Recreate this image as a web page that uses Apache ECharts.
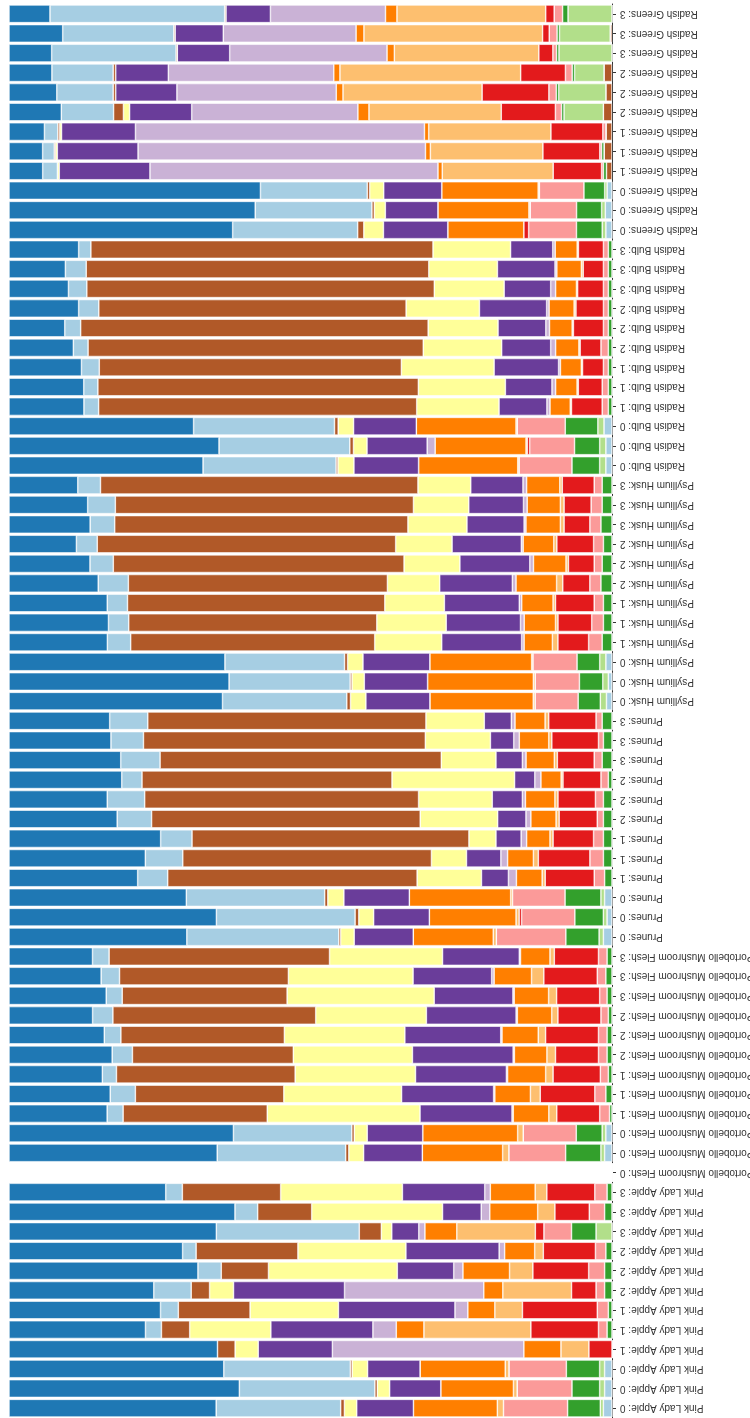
<!DOCTYPE html>
<html>
<head>
<meta charset="utf-8">
<script src="https://cdn.jsdelivr.net/npm/echarts@6/dist/echarts.min.js"></script>
<style>
  html, body { margin: 0; padding: 0; background: #ffffff; }
  #chart { width: 750px; height: 1418px; }
</style>
</head>
<body>
<div id="chart"></div>
<script>
// Foods and time points; three replicate rows per time point.
const foods = ['Pink Lady Apple', 'Portobello Mushroom Flesh', 'Prunes', 'Psyllium Husk', 'Radish Bulb', 'Radish Greens'];
const timepoints = ['0', '0', '0', '1', '1', '1', '2', '2', '2', '3', '3', '3'];

// Taxa in stacking order (starting at the axis).
const taxa = ['t01', 't02', 't03', 't04', 't05', 't06', 't07', 't08', 't09', 't10', 't11', 't12', 't13', 't14'];
const taxonColors = ['#b15928', '#a6cee3', '#b2df8a', '#33a02c', '#fb9a99', '#e31a1c', '#fdbf6f',
                     '#ff7f00', '#cab2d6', '#6a3d9a', '#ffff99', '#b15928', '#a6cee3', '#1f78b4'];

// Abundance per sample (one row per sample, one column per taxon).
const pinkLadyApple = [
  [0, 1.4, 0.5, 5.3, 10.4, 0, 1.0, 13.6, 0, 9.2, 2.0, 0.6, 20.2, 33.6],
  [0, 1.2, 0.8, 4.5, 8.9, 0, 0.6, 11.8, 0, 8.3, 2.0, 0.4, 22.0, 37.4],
  [0, 1.2, 0.8, 5.4, 9.3, 0, 0.6, 13.8, 0, 8.5, 2.5, 0.3, 20.5, 34.8],
  [0, 0, 0, 0, 0, 3.8, 4.6, 6.1, 31.5, 12.2, 3.8, 2.9, 0, 34.3],
  [0, 0, 0, 0.8, 1.4, 11.0, 17.4, 4.5, 3.8, 16.6, 13.2, 4.6, 2.6, 22.2],
  [0, 0, 0, 0.6, 1.8, 12.2, 4.5, 4.4, 2.1, 19.0, 14.4, 11.7, 2.9, 24.7],
  [0, 0, 0, 1.2, 1.4, 4.0, 11.2, 3.1, 22.7, 18.1, 3.9, 3.0, 6.1, 23.6],
  [0, 0, 0, 1.2, 2.6, 9.1, 3.8, 7.6, 1.5, 9.2, 21.0, 7.7, 3.8, 30.8],
  [0, 0, 0, 1.0, 1.7, 8.5, 1.4, 4.9, 0.9, 15.2, 17.6, 16.6, 2.2, 28.3],
  [0, 0, 2.6, 4.0, 4.5, 1.4, 12.8, 5.2, 1.0, 4.4, 1.7, 3.6, 23.3, 33.8],
  [0, 0, 0, 1.2, 2.5, 5.6, 2.8, 7.8, 1.4, 6.3, 21.3, 8.8, 3.7, 36.8],
  [0, 0, 0, 0.8, 2.0, 7.8, 1.9, 7.3, 0.9, 13.4, 19.8, 16.0, 2.7, 25.5]
];
const portobelloMushroomFlesh = [
  [0, 0, 0, 0, 0, 0, 0, 0, 0, 0, 0, 0, 0, 0],
  [0, 1.2, 0.6, 5.7, 9.2, 0, 1.0, 13.0, 0, 9.5, 2.4, 0.5, 20.8, 33.7],
  [0, 1.0, 0.6, 4.2, 8.6, 0, 0.9, 15.4, 0, 9.0, 2.1, 0.4, 19.2, 36.4],
  [0, 0, 0, 0.4, 1.6, 7.0, 1.3, 5.8, 0.2, 15.0, 24.9, 23.5, 2.6, 16.0],
  [0, 0, 0, 1.0, 1.8, 8.9, 1.6, 5.8, 0.2, 15.0, 19.2, 24.2, 4.1, 16.5],
  [0, 0, 0, 0.6, 1.3, 7.7, 1.2, 6.2, 0.2, 14.8, 19.6, 29.1, 2.3, 15.2],
  [0, 0, 0, 0.8, 1.4, 7.0, 1.4, 5.3, 0.2, 16.4, 19.4, 26.2, 3.3, 16.8],
  [0, 0, 0, 0.8, 1.4, 8.6, 1.2, 5.9, 0.2, 15.6, 19.6, 26.6, 2.7, 15.5],
  [0, 0, 0, 0.6, 1.2, 7.0, 1.0, 5.6, 0.2, 14.6, 18.0, 33.0, 3.3, 13.6],
  [0, 0, 0, 0.8, 1.2, 7.0, 1.3, 5.6, 0.2, 12.8, 23.9, 26.8, 2.6, 15.8],
  [0, 0, 0, 1.0, 1.4, 8.7, 2.0, 6.1, 0.4, 12.8, 20.3, 27.5, 3.0, 15.0],
  [0, 0, 0, 0.8, 1.4, 7.2, 0.7, 4.8, 0.2, 12.5, 18.4, 35.9, 2.7, 13.6]
];
const prunes = [
  [0, 1.4, 0.7, 5.4, 11.3, 0, 0.5, 13.0, 0, 9.6, 2.2, 0.3, 24.7, 28.9],
  [0, 0.8, 0.6, 4.6, 8.6, 0.4, 0.5, 14.0, 0, 9.0, 2.4, 0.6, 22.4, 33.5],
  [0, 1.2, 0.6, 5.8, 8.5, 0, 0.3, 16.4, 0, 10.6, 2.6, 0.5, 22.4, 28.7],
  [0, 0, 0, 1.2, 1.7, 8.0, 0.5, 4.2, 1.3, 4.4, 10.5, 40.7, 4.9, 21.0],
  [0, 0, 0, 1.4, 2.2, 8.4, 0.8, 4.2, 1.1, 5.6, 5.7, 40.5, 6.1, 22.2],
  [0, 0, 0, 1.4, 1.6, 6.6, 0.5, 3.8, 0.9, 4.1, 4.4, 45.1, 5.1, 24.7],
  [0, 0, 0, 1.4, 1.0, 6.2, 0.5, 4.1, 0.8, 4.6, 12.6, 43.7, 5.6, 17.6],
  [0, 0, 0, 1.4, 1.3, 6.1, 0.5, 4.8, 0.5, 4.9, 12.0, 44.6, 6.1, 16.0],
  [0, 0, 0, 0.6, 1.2, 6.2, 0.3, 3.3, 1.0, 3.3, 20.0, 40.8, 3.3, 18.4],
  [0, 0, 0, 1.6, 1.3, 6.0, 0.5, 4.6, 0.6, 4.3, 8.9, 45.8, 6.4, 18.2],
  [0, 0, 0, 1.4, 0.8, 7.6, 0.5, 4.8, 0.9, 3.8, 10.6, 45.9, 5.3, 16.6],
  [0, 0, 0, 1.6, 1.0, 7.7, 0.6, 4.9, 0.6, 4.4, 9.5, 45.3, 6.2, 16.4]
];
const psylliumHusk = [
  [0, 0.9, 1.0, 3.6, 7.0, 0, 0.3, 16.8, 0, 10.4, 2.5, 0.6, 20.2, 34.7],
  [0, 0.6, 0.9, 3.8, 7.2, 0, 0.3, 17.2, 0, 10.3, 2.0, 0.3, 19.7, 35.8],
  [0, 1.0, 1.0, 3.7, 7.2, 0, 0.2, 16.6, 0, 10.9, 2.5, 0.5, 19.5, 35.2],
  [0, 0, 0, 1.6, 2.2, 5.0, 0.9, 4.6, 0.4, 13.0, 10.9, 39.7, 3.8, 16.0],
  [0, 0, 0, 1.4, 1.9, 5.5, 0.4, 5.1, 0.6, 12.1, 11.3, 40.4, 3.3, 16.2],
  [0, 0, 0, 1.4, 1.5, 6.3, 0.4, 5.1, 0.4, 12.2, 9.7, 41.9, 3.3, 16.0],
  [0, 0, 0, 1.8, 1.8, 4.4, 1.0, 6.6, 0.6, 11.8, 8.5, 42.1, 4.9, 14.5],
  [0, 0, 0, 1.6, 1.3, 4.2, 0.4, 5.3, 0.6, 11.4, 9.1, 47.4, 3.8, 13.2],
  [0, 0, 0, 1.4, 1.6, 6.0, 0.5, 5.0, 0.3, 11.3, 9.2, 48.7, 3.4, 11.0],
  [0, 0, 0, 1.8, 1.8, 4.2, 0.6, 5.6, 0.3, 9.3, 9.6, 47.7, 4.0, 13.2],
  [0, 0, 0, 1.6, 1.8, 4.4, 0.6, 5.4, 0.6, 8.9, 9.0, 48.5, 4.5, 12.8],
  [0, 0, 0, 1.6, 1.3, 5.2, 0.4, 5.4, 0.6, 8.5, 8.6, 51.7, 3.7, 11.2]
];
const radishBulb = [
  [0, 1.0, 1.0, 4.5, 8.6, 0, 0.2, 16.1, 0, 10.5, 2.6, 0.3, 21.6, 31.5],
  [0, 1.0, 1.0, 4.1, 7.3, 0.4, 0.2, 14.8, 1.3, 9.8, 2.2, 0.6, 21.3, 34.2],
  [0, 1.3, 1.0, 5.3, 7.8, 0, 0.2, 16.2, 0, 10.2, 2.5, 0.6, 22.9, 30.0],
  [0, 0, 0, 0.6, 1.0, 5.0, 0.2, 3.3, 0.5, 7.8, 13.4, 51.8, 2.4, 12.2],
  [0, 0, 0, 0.6, 1.0, 3.9, 0.2, 3.5, 0.6, 7.6, 14.2, 52.3, 2.3, 12.2],
  [0, 0, 0, 0.6, 0.8, 3.4, 0.2, 3.4, 0.3, 10.5, 15.1, 49.2, 2.9, 11.8],
  [0, 0, 0, 0.6, 1.2, 3.4, 0.2, 3.8, 0.8, 8.0, 12.8, 54.7, 2.4, 10.5],
  [0, 0, 0, 0.6, 0.8, 4.9, 0.2, 3.7, 0.6, 7.8, 11.4, 56.7, 2.6, 9.1],
  [0, 0, 0, 0.6, 0.8, 4.5, 0.3, 4.1, 0.4, 11.0, 12.0, 50.3, 3.3, 11.4],
  [0, 0, 0, 0.6, 0.8, 4.2, 0.2, 3.4, 0.8, 7.6, 11.4, 56.7, 3.0, 9.7],
  [0, 0, 0, 0.6, 0.8, 3.3, 0.3, 4.0, 0.3, 9.4, 11.2, 55.9, 3.4, 9.2],
  [0, 0, 0, 0.6, 0.8, 4.1, 0.2, 3.6, 0.4, 6.9, 12.7, 56.0, 2.0, 11.4]
];
const radishGreens = [
  [0, 1.0, 0.6, 4.2, 7.8, 0.8, 0, 12.4, 0, 10.5, 3.2, 1.0, 20.4, 36.5],
  [0, 1.1, 0.6, 4.1, 7.6, 0, 0.2, 14.9, 0, 8.6, 1.8, 0.4, 19.1, 40.3],
  [0, 0.8, 0.4, 3.4, 7.3, 0, 0.2, 15.8, 0, 9.5, 2.3, 0.4, 17.5, 41.2],
  [0.9, 0, 0, 0.5, 0.3, 7.9, 18.1, 0.7, 47.0, 14.8, 0.3, 0, 2.4, 5.5],
  [1.3, 0, 0, 0.4, 0.3, 9.3, 18.4, 0.8, 47.0, 13.2, 0.3, 0.2, 1.9, 5.5],
  [1.0, 0, 0, 0, 0.5, 8.5, 20.0, 0.7, 47.3, 12.1, 0.3, 0.3, 2.2, 5.8],
  [1.4, 0, 6.4, 0.4, 1.0, 8.8, 21.5, 1.8, 27.0, 10.1, 1.0, 1.6, 8.5, 8.5],
  [1.0, 0, 7.7, 0.4, 1.2, 10.9, 22.7, 1.1, 26.0, 10.0, 0, 0.4, 9.2, 7.8],
  [1.3, 0, 4.8, 0.4, 1.1, 7.3, 29.5, 1.0, 27.0, 8.6, 0, 0.4, 10.0, 7.0],
  [0, 0, 8.7, 0.4, 0.6, 2.3, 23.7, 1.2, 25.8, 8.6, 0, 0.2, 20.4, 7.0],
  [0.3, 0, 8.4, 0.4, 1.3, 1.1, 29.6, 1.3, 22.0, 8.0, 0, 0.2, 18.4, 8.9],
  [0, 0, 7.3, 0.9, 1.4, 1.4, 24.7, 1.9, 19.1, 7.4, 0, 0.2, 29.0, 6.8]
];

// Build the table: rows in category order, converted to relative abundance (%).
const samples = [].concat(pinkLadyApple, portobelloMushroomFlesh, prunes, psylliumHusk, radishBulb, radishGreens);
const categories = foods.flatMap(f => timepoints.map(t => f + ': ' + t));
const relative = samples.map(row => {
  const total = row.reduce((a, b) => a + b, 0);
  return row.map(v => (total > 0 ? (v / total) * 100 : 0));
});

const series = taxa.map((name, i) => ({
  name: name,
  type: 'bar',
  stack: 'abundance',
  barCategoryGap: '10%',
  silent: true,
  itemStyle: { color: taxonColors[i], borderColor: '#ffffff', borderWidth: 0.6 },
  data: relative.map(row => row[i])
}));

const chart = echarts.init(document.getElementById('chart'), null, { renderer: 'canvas' });
chart.setOption({
  animation: false,
  backgroundColor: '#ffffff',
  grid: { left: 9, right: 138, top: 4, bottom: 0, containLabel: false, outerBoundsMode: 'none' },
  xAxis: {
    type: 'value',
    min: 0,
    max: 100,
    inverse: true,
    show: false
  },
  yAxis: {
    type: 'category',
    position: 'right',
    data: categories,
    axisLine: { show: true, lineStyle: { color: '#333333', width: 1 } },
    axisTick: { show: true, alignWithLabel: true, length: 4, lineStyle: { color: '#333333' } },
    axisLabel: {
      interval: 0,
      rotate: 180,
      margin: 8,
      fontSize: 10,
      color: '#333333',
      fontFamily: 'Liberation Sans'
    },
    splitLine: { show: false }
  },
  series: series
});
</script>
</body>
</html>
